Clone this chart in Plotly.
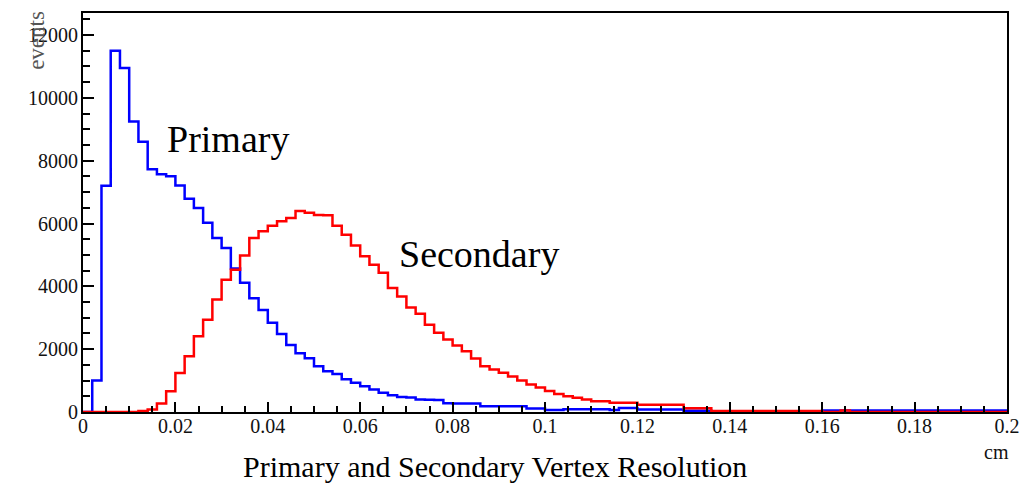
import numpy as np
import plotly.graph_objects as go

# Bin edges (100 bins of 0.002 cm from 0 to 0.2)
bin_edges = np.round(np.linspace(0.0, 0.2, 101), 4).tolist()

# Primary vertex resolution counts per bin (blue)
primary = [
    0, 1000, 7200, 11500, 10950, 9250, 8600, 7730, 7570, 7500,
    7210, 6790, 6490, 6020, 5540, 5220, 4570, 4110, 3620, 3250,
    2840, 2480, 2130, 1870, 1710, 1460, 1300, 1210, 1040, 930,
    820, 720, 610, 530, 480, 460, 400, 390, 380, 280,
    270, 270, 270, 185, 185, 185, 185, 185, 110, 110,
    60, 60, 90, 90, 90, 90, 90, 60, 130, 130,
    80, 80, 80, 80, 80, 40, 40, 40, 25, 25,
    25, 25, 25, 25, 25, 25, 25, 25, 25, 25,
    45, 45, 45, 45, 45, 45, 45, 45, 45, 45,
    45, 45, 45, 45, 45, 45, 45, 45, 45, 45,
]

# Secondary vertex resolution counts per bin (red)
secondary = [
    0, 0, 0, 0, 0, 0, 30, 80, 270, 660,
    1245, 1775, 2410, 2940, 3580, 4210, 4530, 4980, 5540, 5750,
    5930, 6070, 6175, 6400, 6340, 6270, 6260, 5930, 5640, 5300,
    4955, 4690, 4430, 3950, 3680, 3330, 3130, 2780, 2520, 2305,
    2120, 1933, 1700, 1457, 1350, 1250, 1130, 1000, 874, 780,
    670, 570, 503, 451, 397, 344, 344, 292, 292, 292,
    230, 230, 230, 230, 230, 120, 120, 120, 35, 35,
    35, 35, 35, 35, 35, 35, 35, 35, 35, 35,
    0, 0, 45, 0, 0, 0, 0, 0, 0, 0,
    0, 0, 0, 0, 0, 0, 0, 0, 0, 0,
]

x_tick_vals = [0, 0.02, 0.04, 0.06, 0.08, 0.1, 0.12, 0.14, 0.16, 0.18, 0.2]
x_tick_labels = ["0", "0.02", "0.04", "0.06", "0.08", "0.1", "0.12", "0.14", "0.16", "0.18", "0.2"]
y_tick_vals = [0, 2000, 4000, 6000, 8000, 10000, 12000]
y_tick_labels = ["0", "2000", "4000", "6000", "8000", "10000", "12000"]

SERIF = "Liberation Serif, Times New Roman, serif"


def steps(values):
    return bin_edges, list(values) + [values[-1]]


fig = go.Figure()
bx, by = steps(primary)
fig.add_trace(go.Scatter(x=bx, y=by, mode="lines", line_shape="hv",
                         line=dict(color="#0000ff", width=2.5),
                         name="Primary", showlegend=False, hoverinfo="skip"))
rx, ry = steps(secondary)
fig.add_trace(go.Scatter(x=rx, y=ry, mode="lines", line_shape="hv",
                         line=dict(color="#ff0000", width=2.5),
                         name="Secondary", showlegend=False, hoverinfo="skip"))

axis_common = dict(
    showline=True, linecolor="black", linewidth=2, mirror=True,
    ticks="inside", tickcolor="black", tickwidth=2,
    showgrid=False, zeroline=False,
    tickfont=dict(family=SERIF, size=20, color="#111"),
)

fig.update_xaxes(range=[0, 0.2], tickmode="array", tickvals=x_tick_vals,
                 ticktext=x_tick_labels, ticklen=10, ticklabelstandoff=-5,
                 minor=dict(ticks="inside", dtick=0.005, ticklen=6,
                            tickcolor="black", tickwidth=2, showgrid=False),
                 **axis_common)
fig.update_yaxes(range=[0, 12700], tickmode="array", tickvals=y_tick_vals,
                 ticktext=y_tick_labels, ticklen=11, ticklabelstandoff=-1,
                 minor=dict(ticks="inside", dtick=500, ticklen=7,
                            tickcolor="black", tickwidth=2, showgrid=False),
                 **axis_common)

fig.add_annotation(x=0.0178, y=8700, xref="x", yref="y", text="Primary",
                   showarrow=False, xanchor="left", yanchor="middle",
                   font=dict(family=SERIF, size=38, color="#000"))
fig.add_annotation(x=0.0679, y=5040, xref="x", yref="y", text="Secondary",
                   showarrow=False, xanchor="left", yanchor="middle",
                   font=dict(family=SERIF, size=38, color="#000"))
fig.add_annotation(x=0.446, y=-0.1376, xref="paper", yref="paper",
                   text="Primary and Secondary Vertex Resolution",
                   showarrow=False, xanchor="center", yanchor="middle",
                   font=dict(family=SERIF, size=30, color="#000"))
fig.add_annotation(x=0.989, y=-0.1015, xref="paper", yref="paper", text="cm",
                   showarrow=False, xanchor="center", yanchor="middle",
                   font=dict(family=SERIF, size=20, color="#111"))
fig.add_annotation(x=-0.0505, y=0.931, xref="paper", yref="paper", text="events",
                   showarrow=False, xanchor="center", yanchor="middle", textangle=-90,
                   font=dict(family=SERIF, size=23, color="#555"))

fig.update_layout(width=1032, height=488,
                  margin=dict(l=83, r=25, t=13, b=76),
                  paper_bgcolor="white", plot_bgcolor="white")

fig.write_html("out.html")
